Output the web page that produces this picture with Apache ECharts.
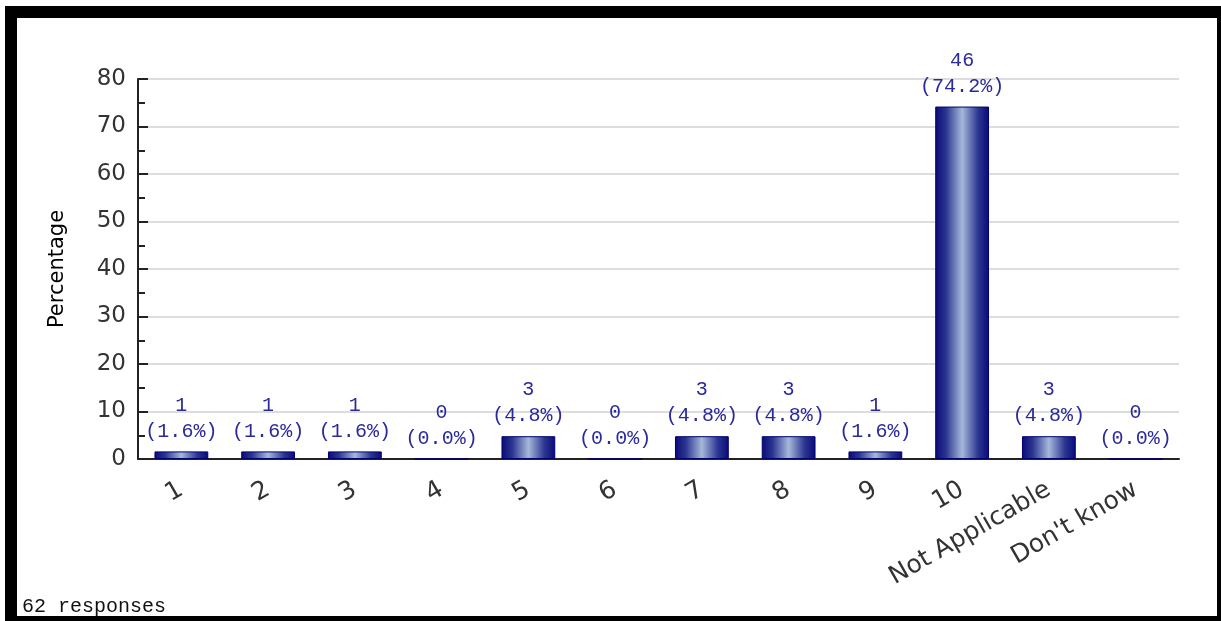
<!DOCTYPE html>
<html>
<head>
<meta charset="utf-8">
<script src="https://cdn.jsdelivr.net/npm/echarts@6/dist/echarts.min.js"></script>
<style>
  html, body { margin: 0; padding: 0; background: #fff; }
  #chart { position: absolute; left: 0; top: 0; width: 1221px; height: 621px; }
  #frame { position: absolute; left: 5px; top: 6px; width: 1200px; height: 598px;
           border-style: solid; border-color: #000; border-width: 12px 4px 5px 12px; pointer-events: none; }
</style>
</head>
<body>
<div id="chart"></div>
<div id="frame"></div>
<script>
const categories = ['1', '2', '3', '4', '5', '6', '7', '8', '9', '10', 'Not Applicable', "Don't know"];
const counts = [1, 1, 1, 0, 3, 0, 3, 3, 1, 46, 3, 0];
const percents = [1.6, 1.6, 1.6, 0.0, 4.8, 0.0, 4.8, 4.8, 1.6, 74.2, 4.8, 0.0];
const yTicks = [0, 10, 20, 30, 40, 50, 60, 70, 80];
const footnote = '62 responses';
const yName = 'Percentage';

const chart = echarts.init(document.getElementById('chart'), null, { renderer: 'canvas' });
chart.setOption({
  animation: false,
  backgroundColor: 'transparent',
  title: {
    text: footnote,
    left: 17, top: 592,
    textStyle: { fontFamily: 'Liberation Mono', fontSize: 20, fontWeight: 'normal', color: '#111' }
  },
  grid: { left: 138, right: 42, top: 79, bottom: 162, containLabel: false },
  xAxis: {
    type: 'category',
    data: categories,
    boundaryGap: true,
    axisLine: { lineStyle: { color: '#222', width: 2 } },
    axisTick: { inside: true, length: 9, interval: 0, lineStyle: { color: '#222', width: 2 } },
    axisLabel: { interval: 0, rotate: 30, margin: 29, fontFamily: 'DejaVu Sans', fontSize: 25, color: '#333' },
    splitLine: { show: false }
  },
  yAxis: {
    type: 'value',
    min: yTicks[0], max: yTicks[yTicks.length - 1], interval: 10,
    name: yName,
    nameLocation: 'middle',
    nameRotate: 90,
    nameGap: 70,
    nameTextStyle: { fontFamily: 'DejaVu Sans', fontSize: 21, color: '#000' },
    axisLine: { show: true, lineStyle: { color: '#222', width: 2 } },
    axisTick: { show: true, inside: true, length: 10, lineStyle: { color: '#222', width: 2 } },
    minorTick: { show: true, splitNumber: 2, length: 7, lineStyle: { color: '#222', width: 2 } },
    axisLabel: { margin: 12, fontFamily: 'DejaVu Sans', fontSize: 23, color: '#333' },
    splitLine: { show: true, lineStyle: { color: '#dddddd', width: 2 } }
  },
  series: [{
    type: 'bar',
    data: percents,
    barWidth: '62%',
    itemStyle: {
      color: {
        type: 'linear', x: 0, y: 0, x2: 1, y2: 0,
        colorStops: [
          { offset: 0, color: '#0a0a78' },
          { offset: 0.2, color: '#2a3590' },
          { offset: 0.5, color: '#a6b8da' },
          { offset: 0.8, color: '#2a3590' },
          { offset: 1, color: '#0a0a78' }
        ]
      },
      borderColor: '#00006e',
      borderWidth: 1
    },
    label: {
      show: true,
      position: 'top',
      distance: 7,
      fontFamily: 'Liberation Mono',
      fontSize: 20,
      lineHeight: 26,
      color: '#2a2a9a',
      formatter: p => counts[p.dataIndex] + '\n(' + percents[p.dataIndex].toFixed(1) + '%)'
    }
  }]
});
</script>
</body>
</html>
